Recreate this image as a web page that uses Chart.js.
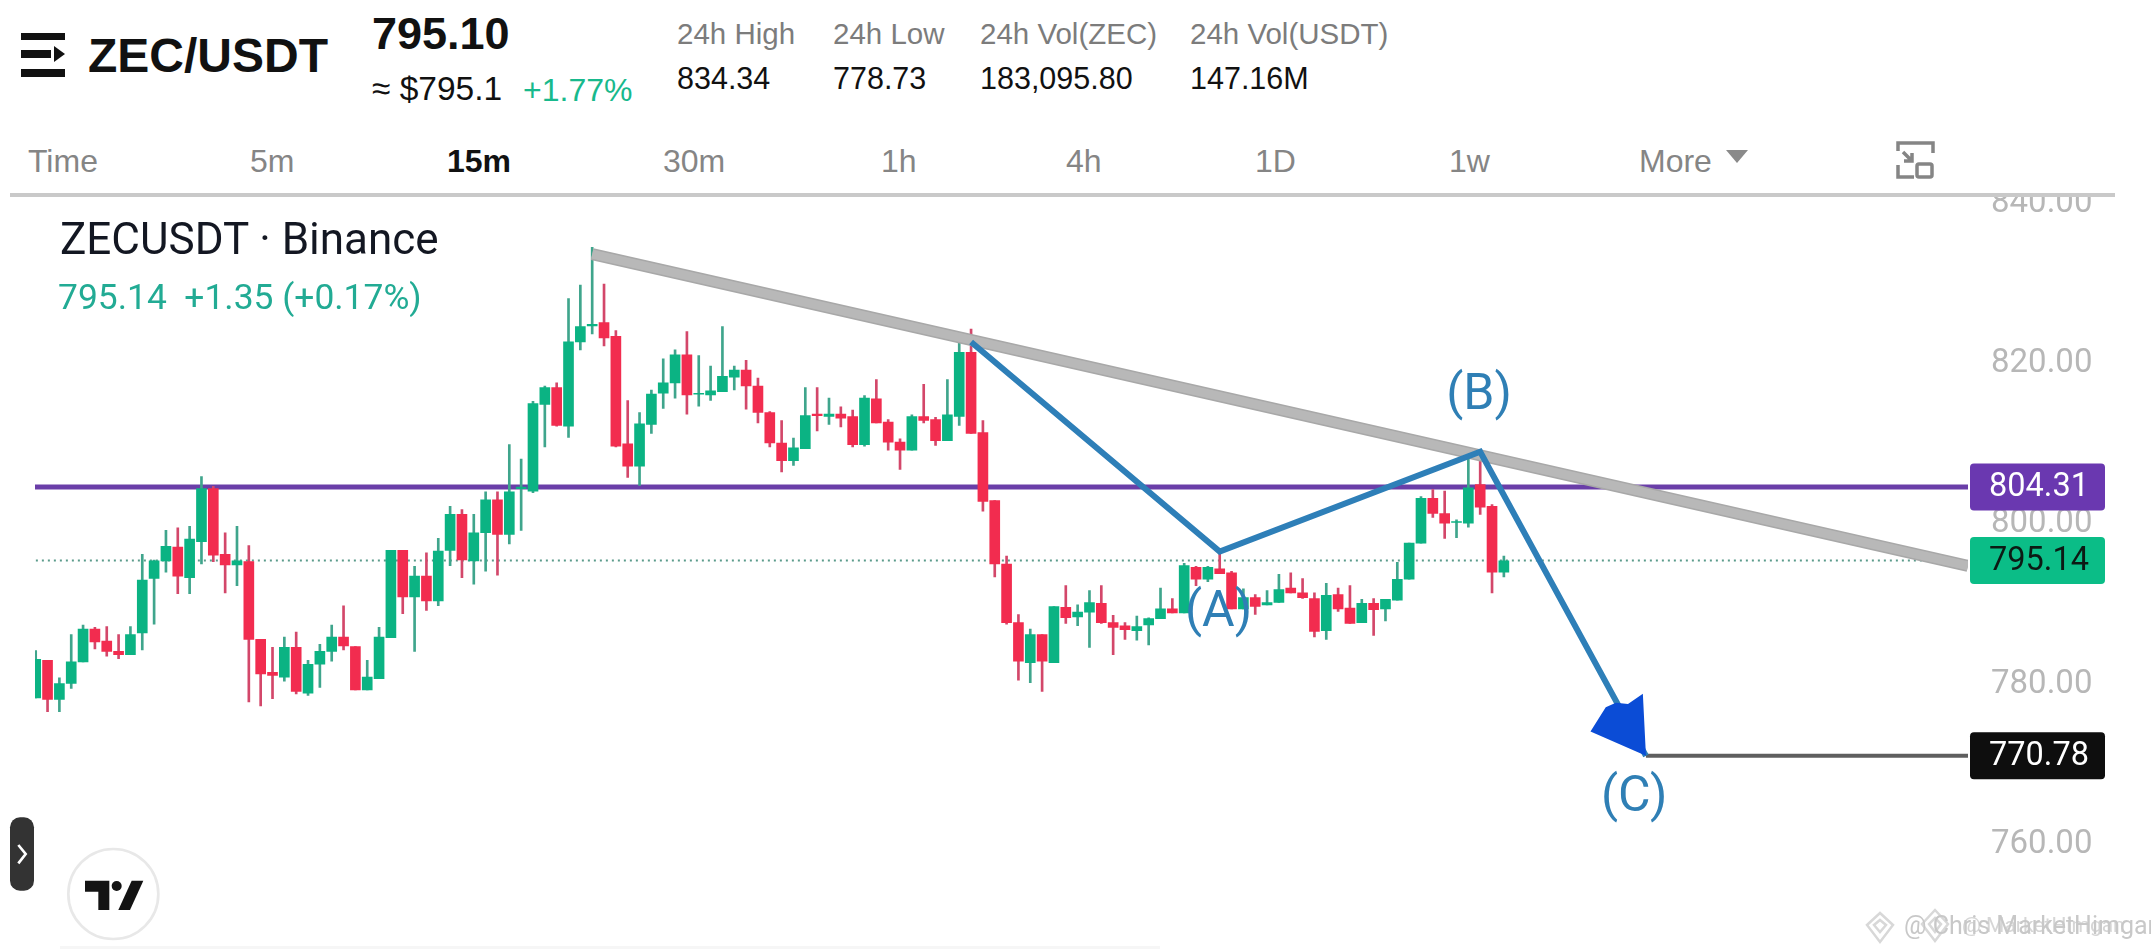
<!DOCTYPE html>
<html>
<head>
<meta charset="utf-8">
<title>ZEC/USDT</title>
<script src="https://cdn.jsdelivr.net/npm/chart.js@4/dist/chart.umd.min.js"></script>
<style>
  html, body { margin: 0; padding: 0; background: #fff; width: 2151px; height: 950px; overflow: hidden; }
  canvas { position: absolute; left: 0; top: 0; }
  #head { position: absolute; left: 0; top: 0; width: 2151px; height: 194px; background: #fff; z-index: 2; font-family: "Liberation Sans", Arial, sans-serif; }
  #rule { position: absolute; left: 10px; top: 193px; width: 2105px; height: 4px; background: #c9c9c9; z-index: 3; }
  #foot { position: absolute; left: 60px; top: 946px; width: 1100px; height: 3px; background: #f6f6f6; z-index: 1; }
  .t { position: absolute; white-space: nowrap; line-height: 1; transform: translateY(-50%); }
  .grey { color: #7c7c7c; font-size: 29.5px; }
  .val { color: #111; font-size: 30.5px; }
  .tf { color: #858585; font-size: 32px; }
  .cap { position: absolute; z-index: 1; white-space: nowrap; line-height: 1; font-family: Roboto, sans-serif; transform: translateY(-50%); }
  svg { position: absolute; }
</style>
</head>
<body>
<div id="head">
  <svg style="left:0;top:0" width="90" height="100">
    <rect x="21" y="33" width="44" height="7" fill="#111"/>
    <rect x="21" y="50" width="30" height="8" fill="#111"/>
    <polygon points="54,46 65,54 54,62" fill="#111"/>
    <rect x="21" y="69" width="44" height="8" fill="#111"/>
  </svg>
  <div class="t" style="left:88px;top:56px;font-size:48px;font-weight:700;color:#111">ZEC/USDT</div>
  <div class="t" style="left:372px;top:33px;font-size:45px;font-weight:700;color:#111">795.10</div>
  <div class="t" style="left:372px;top:89px;font-size:33.5px;color:#111">≈ $795.1</div>
  <div class="t" style="left:523px;top:90px;font-size:32px;color:#18b98c">+1.77%</div>
  <div class="t grey" style="left:677px;top:34px">24h High</div>
  <div class="t val" style="left:677px;top:78px">834.34</div>
  <div class="t grey" style="left:833px;top:34px">24h Low</div>
  <div class="t val" style="left:833px;top:78px">778.73</div>
  <div class="t grey" style="left:980px;top:34px">24h Vol(ZEC)</div>
  <div class="t val" style="left:980px;top:78px">183,095.80</div>
  <div class="t grey" style="left:1190px;top:34px">24h Vol(USDT)</div>
  <div class="t val" style="left:1190px;top:78px">147.16M</div>
  <div class="t tf" style="left:28px;top:161px">Time</div>
  <div class="t tf" style="left:250px;top:161px">5m</div>
  <div class="t tf" style="left:447px;top:161px;color:#111;font-weight:700">15m</div>
  <div class="t tf" style="left:663px;top:161px">30m</div>
  <div class="t tf" style="left:881px;top:161px">1h</div>
  <div class="t tf" style="left:1066px;top:161px">4h</div>
  <div class="t tf" style="left:1255px;top:161px">1D</div>
  <div class="t tf" style="left:1449px;top:161px">1w</div>
  <div class="t tf" style="left:1639px;top:161px">More</div>
  <svg style="left:1720px;top:143px" width="40" height="30"><polygon points="6,7 28,7 17,20" fill="#8a8a8a"/></svg>
  <svg style="left:1890px;top:135px" width="50" height="50" fill="none" stroke="#858585" stroke-width="3.5">
    <path d="M8 16 V8 H43 V18"/><path d="M8 30 V42 H24"/>
    <path d="M13 17 L22 26 M22 18 V26 H14"/>
    <rect x="27" y="29" width="15" height="13" rx="2"/>
  </svg>
</div>
<div id="rule"></div>
<div id="foot"></div>
<div class="cap" style="left:60px;top:239px;font-size:44px;color:#131722">ZECUSDT · Binance</div>
<div class="cap" style="left:58px;top:298px;font-size:35.4px;color:#22ab94">795.14&nbsp; +1.35 (+0.17%)</div>
<svg style="left:0;top:780px;z-index:1" width="300" height="170" viewBox="0 0 900 510">
  <rect x="30" y="112" width="72" height="220" rx="30" fill="#333"/>
  <polyline points="55,195 77,222 55,250" fill="none" stroke="#fff" stroke-width="8"/>
  <circle cx="340" cy="342" r="135" fill="#fff" stroke="#e8e8e8" stroke-width="8"/>
  <polygon points="255,302 328,302 328,390 295,390 295,335 255,335" fill="#131313"/>
  <circle cx="350" cy="318" r="15" fill="#131313"/>
  <polygon points="395,302 430,302 390,390 355,390" fill="#131313"/>
</svg>
<svg style="left:1860px;top:905px;z-index:1" width="100" height="45" fill="none" stroke="#d8d8d8" stroke-width="2.5">
  <path d="M20 8 L33 20 L20 37 L7 20 Z M20 15 L26 20 L20 27 L14 20 Z"/>
  <path d="M75 5 L88 19 L75 36 L62 19 Z M75 13 L81 19 L75 27 L69 19 Z"/>
</svg>
<div class="cap" style="left:1904px;top:925px;font-size:25px;color:#c8c8c8">@ Chris MarketHimgan</div>
<div class="cap" style="left:1962px;top:925px;font-size:21px;color:#c8c8c8;opacity:.75">@ MarketHimgan</div>
<canvas id="chart" width="2151" height="950"></canvas>
<script>
// --- values, one candle per index ---
const opens = [778.0,782.7,777.8,779.8,782.5,786.6,785.1,783.8,783.4,786.1,792.9,795.1,796.8,793.0,797.5,804.1,795.9,794.6,795.0,785.3,
  781.2,780.6,784.3,778.6,782.2,783.8,785.6,784.4,779.0,780.4,785.5,796.4,790.6,793.2,790.1,796.4,800.9,795.1,798.6,802.7,
  798.4,804.1,803.8,814.6,816.7,811.9,822.4,824.4,824.8,823.1,809.7,806.9,812.1,816.0,817.3,820.8,815.9,815.8,816.2,818.0,
  818.9,816.9,813.6,809.8,807.6,809.1,813.4,813.1,813.4,813.1,809.6,815.3,812.4,809.9,808.9,813.1,812.7,810.1,813.1,821.1,
  811.1,802.6,794.7,787.4,782.4,785.9,782.4,789.3,788.1,788.7,789.8,787.4,787.0,786.4,787.1,787.9,789.1,788.6,794.3,792.8,
  794.1,793.6,789.1,790.5,789.6,789.9,791.7,791.1,790.4,786.4,790.9,789.2,787.4,789.8,789.1,790.2,792.8,797.3,802.9,801.0,
  799.9,799.8,804.6,801.9,793.7];
const highs = [783.9,782.7,780.5,785.9,787.1,786.8,786.9,785.9,786.9,795.9,795.2,798.9,799.2,799.4,805.6,804.4,798.6,799.4,797.0,785.3,
  784.3,785.6,786.2,782.7,784.7,787.1,789.5,784.4,782.7,786.8,796.4,796.4,794.4,796.1,797.9,801.9,801.5,800.9,803.7,803.7,
  809.6,807.8,815.0,816.9,817.3,827.8,829.5,834.2,829.6,823.8,815.1,813.6,816.4,820.3,821.4,823.7,820.7,819.4,824.3,819.4,
  820.1,817.9,813.7,812.6,810.4,816.7,816.7,815.4,814.3,813.9,815.7,817.7,812.7,810.3,813.3,817.1,813.0,817.7,822.4,824.0,
  812.6,802.6,795.7,788.4,786.6,785.9,789.4,792.0,789.6,791.4,792.0,788.3,787.4,788.2,788.0,791.7,790.4,794.8,794.4,794.4,
  796.1,793.8,791.6,790.9,791.4,793.4,793.6,792.9,791.1,792.3,791.7,792.0,790.3,790.4,790.3,794.9,797.3,803.1,804.0,803.8,
  800.2,808.0,808.7,802.1,795.7];
const lows = [778.0,776.3,776.3,779.2,782.5,784.1,783.2,782.9,783.4,784.0,787.2,793.7,791.0,791.0,794.7,795.0,791.1,792.0,777.5,777.0,
  777.9,780.1,778.5,778.3,779.3,782.6,784.0,779.0,779.0,780.4,785.5,788.5,783.8,788.9,789.5,794.5,793.0,792.2,793.8,793.3,
  797.2,798.9,803.6,809.3,811.9,810.5,821.4,823.4,821.9,809.3,805.5,804.5,811.0,814.1,815.4,813.4,814.4,815.1,816.2,816.4,
  814.0,812.3,809.3,806.2,807.0,809.1,811.3,812.1,811.8,809.3,809.4,812.3,808.9,806.5,808.9,812.3,809.5,810.1,812.0,811.0,
  801.3,793.1,787.2,780.2,779.9,778.8,782.4,787.3,787.0,784.3,787.3,783.4,785.3,785.2,784.6,787.9,788.6,788.6,792.0,792.5,
  793.5,789.1,789.1,788.4,789.6,789.9,791.1,790.4,785.6,785.3,788.8,787.3,787.4,785.8,787.6,790.2,792.8,797.3,800.5,797.9,
  798.0,799.3,800.9,791.1,793.1];
const closes = [782.8,777.8,779.8,782.5,786.6,785.0,783.8,783.4,785.9,792.7,795.1,796.9,793.2,797.8,804.1,795.8,794.6,795.1,785.3,781.0,
  780.8,784.3,778.8,782.2,783.8,785.6,784.5,779.0,780.6,785.6,796.4,790.6,793.2,790.1,796.3,800.9,795.2,798.6,802.7,798.4,
  803.7,804.3,814.7,816.7,812.0,822.4,824.3,824.6,822.9,809.4,806.9,812.2,815.9,817.3,820.8,815.8,816.0,816.3,818.1,818.9,
  816.9,813.6,809.8,807.6,809.2,813.2,813.2,813.4,812.9,809.6,815.4,812.3,809.9,808.9,813.1,812.6,810.1,813.3,821.1,811.0,
  802.5,794.7,787.4,782.6,785.9,782.6,789.4,788.0,788.7,789.9,787.4,786.8,786.5,786.9,787.9,789.1,788.6,794.5,792.8,794.3,
  793.5,789.1,790.5,789.4,789.9,791.5,791.1,790.5,786.3,790.8,789.1,787.3,789.8,789.0,790.3,792.8,797.3,802.9,801.0,799.8,
  800.0,804.2,801.8,793.7,795.1];

const priceTicksStep = 20;
const resistanceLevel = 804.31;
const lastPrice = 795.14;
const targetLevel = 770.78;
// trend line and the A-B-C path, x is in candle index units
const trendX = [47, 163.2];
const trendY = [833.35, 794.47];
const waveX = [79, 100, 122, 136];
const waveY = [822.4, 796.26, 808.7, 770.78];
const targetX = [136, 163.2];
const waveNames = ['(A)', '(B)', '(C)'];
const waveNameX = [99.9, 121.9, 135];
const waveNameY = [788.5, 815.6, 765.5];

const GREEN = '#0bb383', RED = '#f22c4f';
const WICK_GREEN = '#3fa58c', WICK_RED = '#d3476a';
const isUp = opens.map((o, i) => closes[i] >= o);

const lineData = (xs, ys) => xs.map((x, i) => ({ x, y: ys[i] }));
const lineSet = (data, color, width, order, extra) => Object.assign({
  type: 'line', data, borderColor: color, borderWidth: width, pointRadius: 0, tension: 0, order
}, extra);

const tags = [
  { value: resistanceLevel, text: '804.31', bg: '#6a38b0', fg: '#fff' },
  { value: lastPrice, text: '795.14', bg: '#0bbd87', fg: '#0c1a14' },
  { value: targetLevel, text: '770.78', bg: '#0e0e0e', fg: '#fff' }
];

// price tags, wave names and the arrow head sit on top of the datasets
const overlay = {
  id: 'overlay',
  afterDatasetsDraw(chart) {
    const { ctx, scales: { x, y } } = chart;
    ctx.save();

    // arrow head along the last leg of the wave
    const n = waveX.length - 1;
    const tipX = x.getPixelForValue(waveX[n]), tipY = y.getPixelForValue(waveY[n]);
    const dx = tipX - x.getPixelForValue(waveX[n - 1]), dy = tipY - y.getPixelForValue(waveY[n - 1]);
    const len = Math.hypot(dx, dy), ux = dx / len, uy = dy / len;
    const shape = [[0, 0], [-48, 37], [-62, 12], [-61, 1], [-54, -9], [-56, -27]]; // back along line, across line
    ctx.fillStyle = '#0b4cd6';
    ctx.beginPath();
    shape.forEach(([a, b], i) => {
      const px = tipX + a * ux - b * uy, py = tipY + a * uy + b * ux;
      i ? ctx.lineTo(px, py) : ctx.moveTo(px, py);
    });
    ctx.closePath();
    ctx.fill();

    ctx.font = '50px Roboto';
    ctx.fillStyle = '#2f7fb5';
    ctx.textAlign = 'center';
    ctx.textBaseline = 'middle';
    waveNames.forEach((name, i) => {
      ctx.fillText(name, x.getPixelForValue(waveNameX[i]), y.getPixelForValue(waveNameY[i]));
    });

    ctx.font = '32.5px Roboto';
    tags.forEach(tag => {
      const cy = y.getPixelForValue(tag.value);
      ctx.fillStyle = tag.bg;
      ctx.beginPath();
      ctx.roundRect(1970, cy - 23.5, 135, 47, 4);
      ctx.fill();
      ctx.fillStyle = tag.fg;
      ctx.fillText(tag.text, 2039, cy + 1);
    });
    ctx.restore();
  }
};

new Chart(document.getElementById('chart'), {
  type: 'bar',
  data: {
    datasets: [
      lineSet(lineData([-1, trendX[1]], [lastPrice, lastPrice]), '#5b9b8b', 2, 13, { borderDash: [2, 4] }),
      lineSet(lineData([-1, trendX[1]], [resistanceLevel, resistanceLevel]), '#6a3ea8', 5, 12),
      {
        data: highs.map((h, i) => ({ x: i, y: [lows[i], h] })),
        backgroundColor: isUp.map(u => u ? WICK_GREEN : WICK_RED),
        barThickness: 2, grouped: false, order: 11
      },
      {
        data: opens.map((o, i) => ({ x: i, y: [o, closes[i]] })),
        backgroundColor: isUp.map(u => u ? GREEN : RED),
        barThickness: 10, grouped: false, order: 10
      },
      lineSet(lineData(trendX, trendY), '#a8a8a8', 12, 7),
      lineSet(lineData(trendX, trendY), '#b8b8b8', 9, 6),
      lineSet(lineData(targetX, [targetLevel, targetLevel]), '#5f5f5f', 4, 5),
      lineSet(lineData(waveX, waveY), '#2e7fb8', 6, 4)
    ]
  },
  options: {
    responsive: false,
    animation: false,
    devicePixelRatio: 1,
    layout: { padding: { left: 35, right: 46, top: 196, bottom: 0 } },
    plugins: { legend: { display: false }, tooltip: { enabled: false } },
    scales: {
      x: {
        type: 'linear', display: false, offset: false,
        min: -0.06, max: 163.2,
        grid: { display: false, offset: false }
      },
      y: {
        position: 'right', min: 751.9, max: 840.6,
        afterFit(axis) { axis.width = 137; },
        grid: { display: false, drawTicks: false, tickLength: 0 },
        border: { display: false },
        ticks: {
          stepSize: priceTicksStep, includeBounds: false, padding: 23, labelOffset: 2.5,
          color: '#b7b7b7', font: { family: 'Roboto', size: 33 },
          callback: v => v.toFixed(2)
        }
      }
    }
  },
  plugins: [overlay]
});
</script>
</body>
</html>
